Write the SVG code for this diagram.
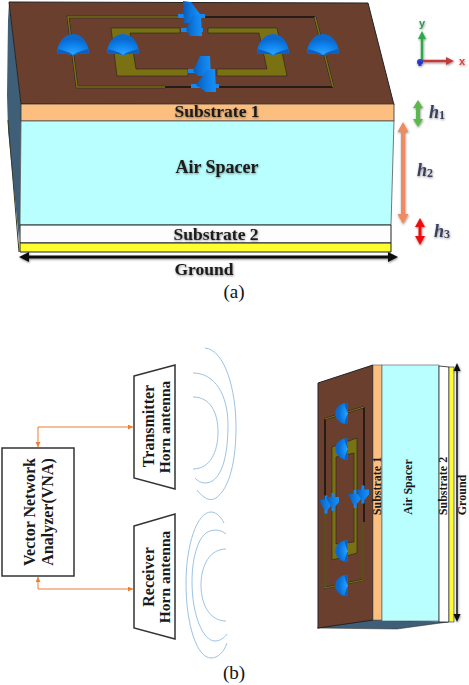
<svg xmlns="http://www.w3.org/2000/svg" width="469" height="685" viewBox="0 0 469 685">
<defs>
<style>
.lbl{font-family:"Liberation Serif",serif;font-weight:bold;fill:#1a1a1a}
.big{font-size:17.500px;text-anchor:middle;filter:url(#soft)}
.v{font-size:16px;text-anchor:middle}
.s{font-size:12px;text-anchor:middle}
.cap{font-family:"Liberation Serif",serif;font-size:19px;fill:#111;text-anchor:middle}
.h{font-family:"Liberation Serif",serif;font-weight:bold;font-style:italic;font-size:18px;fill:#3a3f5c}
.sub{font-size:12px;font-style:normal}
.ax{font-family:"Liberation Sans",sans-serif;font-weight:bold;text-anchor:middle}
.wave{fill:none;stroke:#9cc3e4;stroke-width:1}
.link{fill:none;stroke:#ed7d31;stroke-width:1}
.blk{fill:none;stroke:#111;stroke-width:1.500}
.thin{fill:none;stroke:#7a7212;stroke-width:1.500}
.thinb{fill:none;stroke:#222;stroke-width:2.500}
.gold{fill:#7a7212;stroke:#222;stroke-width:.6}
.box{fill:#fff;stroke:#333;stroke-width:1.500}
</style>
<filter id="soft" x="-10%" y="-30%" width="120%" height="170%"><feDropShadow dx="0.500" dy="1" stdDeviation="0.800" flood-color="#000" flood-opacity=".45"/></filter>
<radialGradient id="dg" cx="50%" cy="95%" r="70%"><stop offset="0" stop-color="#2ca4ff"/><stop offset=".6" stop-color="#0f84ee"/><stop offset="1" stop-color="#0a6ad0"/></radialGradient>
<linearGradient id="sg" x1="0" x2="1" y1="0" y2="0"><stop offset="0" stop-color="#0a5cb8"/><stop offset=".6" stop-color="#0f7fe8"/><stop offset="1" stop-color="#1890f5"/></linearGradient>
<marker id="o" markerWidth="6" markerHeight="6" refX="5" refY="2.500" orient="auto-start-reverse"><path d="M0 0L5 2.500L0 5z" fill="#ed7d31"/></marker>
<g id="dm"><path fill="url(#dg)" d="M-16 9C-16 -2 -9 -11 0 -11S16 -2 16 9Q8 8 0 10Q-8 8 -16 9z"/><path fill="#0a5fc0" d="M-16 9L-15 4Q-8 6 -3 8L0 10Q-8 8 -16 9z"/><path fill="#0a5fc0" d="M16 9L15 4Q8 6 3 8L0 10Q8 8 16 9z"/></g>
<g id="swb"><rect x="-1.500" y="-9" width="3" height="18" fill="#1488f0"/><path fill="url(#sg)" d="M-7 -5L6 -5V0L1 6L-2 5z"/></g>
</defs>
<g id="stack-a">
<path d="M9 3L21 104V146L20 224L19 240L8 130L7 95L8 20z" fill="#3f5f78"/>
<path d="M8 120L19 252" fill="none" stroke="#3a3a20" stroke-width="1"/>
<path d="M9 2L368 3L394 105L21 104z" fill="#6b3f2d" stroke="#222"/>
<rect x="21" y="104" width="373" height="17" fill="#fdbf80" stroke="#333" stroke-width=".8"/>
<path d="M21 121H394L391 225H20z" fill="#b9ffff" stroke="#555" stroke-width=".8"/>
<path d="M20 225H391V243H20z" fill="#fdfdfd" stroke="#222"/>
<path d="M20 243H391V252H20z" fill="#fdfd30" stroke="#222"/>
</g>
<g id="pattern-a">
<path class="blk" d="M200 17H315M165 87H333"/>
<path class="thinb" d="M180 17H68L77 87H165M315 17L333 87"/>
<path class="thin" d="M180 17H68L77 87H165M315 17L333 87"/>
<path class="gold" d="M180 28H111L117 76H188V69H136L130 33H180z"/>
<path class="gold" d="M208 28H277L287 76H217V69H267L259 33H208z"/>
<use href="#dm" x="73" y="45"/><use href="#dm" x="123" y="45"/><use href="#dm" x="273" y="45"/><use href="#dm" x="323" y="45"/>
<g id="switches-a">
<path fill="#1488f0" d="M178 14H205V18H178zM181 28H203V32H181zM188 69H215V73H188zM191 84H219V88H191z"/>
<path fill="url(#sg)" d="M183 1L191 2L200 14L198 18L191 23H184z"/>
<path fill="url(#sg)" d="M193 15L201 16L202 36H190L186 30z"/>
<path fill="url(#sg)" d="M200 56L210 56L211 76H198L193 71z"/>
<path fill="url(#sg)" d="M207 70L215 70L216 92H206L196 85z"/>
</g>
</g>
<g id="axes" filter="url(#soft)">
<path d="M422 61V35" stroke="#2ea84a" stroke-width="2.500"/><path d="M418 39L422 31L426 39z" fill="#2ea84a"/>
<path d="M422 61H448" stroke="#c23a3a" stroke-width="2.500"/><path d="M446 57L454 61L446 65z" fill="#c23a3a"/>
<circle cx="420" cy="62" r="3" fill="#2a3fd0"/>
<text class="ax" x="422" y="27" font-size="11" fill="#2e9a4a">y</text>
<text class="ax" x="462" y="65" font-size="11" fill="#e04040">x</text>
<text class="ax" x="420" y="66" font-size="7" fill="#1a2fc0">z</text>
</g>
<g id="dims" filter="url(#soft)">
<path d="M418 100L423 108H420V119H423L418 127L413 119H416V108H413z" fill="#5cb84c"/>
<path d="M403 122L408.500 132H405V214H408.500L403 224L397.500 214H401V132H397.500z" fill="#f08a60"/>
<path d="M420 218L425 227H421.500V236H425L420 245L415 236H418.500V227H415z" fill="#ee1111"/>
<text class="h" x="429" y="118">h<tspan class="sub" dy="1">1</tspan></text>
<text class="h" x="417" y="176">h<tspan class="sub" dy="1">2</tspan></text>
<text class="h" x="434" y="237">h<tspan class="sub" dy="1">3</tspan></text>
</g>
<g id="labels-a">
<text class="lbl big" x="217" y="117">Substrate 1</text>
<text class="lbl big" x="217" y="173" style="font-size:18px">Air Spacer</text>
<text class="lbl big" x="216" y="240">Substrate 2</text>
<text class="lbl big" x="204" y="275">Ground</text>
<text class="cap" x="234" y="298">(a)</text>
</g>
<g id="ground-arrow" filter="url(#soft)">
<path d="M26 257H392" stroke="#111" stroke-width="3"/>
<path d="M19 257L29 252V262zM398 257L388 252V262z" fill="#111"/>
</g>
<g id="vna"><rect class="box" x="2" y="448" width="72" height="128"/>
<text class="lbl v" transform="translate(35 512) rotate(-90)">Vector Network</text>
<text class="lbl v" transform="translate(53 512) rotate(-90)">Analyzer(VNA)</text></g>
<g id="tx"><path class="box" d="M134 376L175 365V489L134 478z"/>
<text class="lbl v" transform="translate(154 426) rotate(-90)">Transmitter</text>
<text class="lbl v" transform="translate(170 427) rotate(-90)" style="font-size:15.500px">Horn antenna</text></g>
<g id="rx"><path class="box" d="M134 526L175 514V639L134 628z"/>
<text class="lbl v" transform="translate(154 577) rotate(-90)">Receiver</text>
<text class="lbl v" transform="translate(170 577) rotate(-90)" style="font-size:15.500px">Horn antenna</text></g>
<g id="connectors">
<path class="link" marker-start="url(#o)" marker-end="url(#o)" d="M38 447V427H133"/>
<path class="link" marker-start="url(#o)" marker-end="url(#o)" d="M38 577V589H133"/>
</g>
<g id="waves">
<path class="wave" d="M193 397C210 397 218 412 218 432C218 452 210 469 193 469"/>
<path class="wave" d="M193 373C215 373 228 395 228 425C228 455 222 483 205 483C201 483 198 481 195 478"/>
<path class="wave" d="M197 490C203 498 210 502 216 498C230 488 236 460 236 427C236 390 225 350 205 348"/>
<path class="wave" d="M226 549C210 549 201 565 201 585C201 605 210 621 226 621"/>
<path class="wave" d="M226 534C220 529 212 529 206 533C197 540 192 560 192 582C192 615 203 641 215 641C220 641 224 638 227 634"/>
<path class="wave" d="M224 523C220 515 215 512 211 512C197 512 186 545 186 583C186 625 197 658 211 658C218 658 224 652 227 643"/>
</g>
<g id="stack-b">
<path d="M317 628L373 620L448 622L397 629z" fill="#3f5f78" stroke="#222" stroke-width=".5"/>
<path d="M318 383L373 365V620L318 628z" fill="#6b3f2d" stroke="#222"/>
<rect x="373" y="365" width="9" height="255" fill="#fdbf80" stroke="#555" stroke-width=".6"/>
<rect x="382" y="365" width="57" height="256" fill="#b9ffff" stroke="#555" stroke-width=".6"/>
<path d="M439 366L449 367V622H439z" fill="#fff" stroke="#222" stroke-width=".8"/>
<rect x="449" y="367" width="5" height="255" fill="#fdfd30" stroke="#222" stroke-width=".6"/>
</g>
<g id="pattern-b">
<path class="blk" d="M325 500V419M364 407V522"/>
<path class="thinb" d="M325 419L364 407M325 500V588L363 580V522" style="stroke-width:2"/>
<path class="thin" d="M325 419L364 407M325 500V588L363 580V522" style="stroke-width:1.200"/>
<path class="gold" d="M332 447L357 438V553L332 560zM336 457V544L354 542V453z" fill-rule="evenodd"/>
<use href="#dm" transform="translate(342 413.500) rotate(-90) scale(.67 .61)"/>
<use href="#dm" transform="translate(342 449) rotate(-90) scale(.67 .61)"/>
<use href="#dm" transform="translate(342 551) rotate(-90) scale(.67 .61)"/>
<use href="#dm" transform="translate(342 585.500) rotate(-90) scale(.67 .61)"/>
<use href="#swb" transform="translate(326 504.500)"/>
<use href="#swb" transform="translate(333 502)"/>
<use href="#swb" transform="translate(355 499)"/>
<use href="#swb" transform="translate(363 494.500)"/>
</g>
<g id="labels-b">
<text class="lbl s" transform="translate(381 486) rotate(-90)">Substrate 1</text>
<text class="lbl s" transform="translate(411.500 487) rotate(-90)">Air Spacer</text>
<text class="lbl s" transform="translate(447 486) rotate(-90)">Substrate 2</text>
<text class="lbl s" transform="translate(466 495) rotate(-90)">Ground</text>
</g>
<g id="ground-arrow-b" filter="url(#soft)">
<path d="M457 368V618" stroke="#111" stroke-width="1.500"/>
<path d="M457 363L453.500 371H460.500zM457 622L453.500 614H460.500z" fill="#111"/>
</g>
<text class="cap" x="234" y="679">(b)</text>
</svg>
